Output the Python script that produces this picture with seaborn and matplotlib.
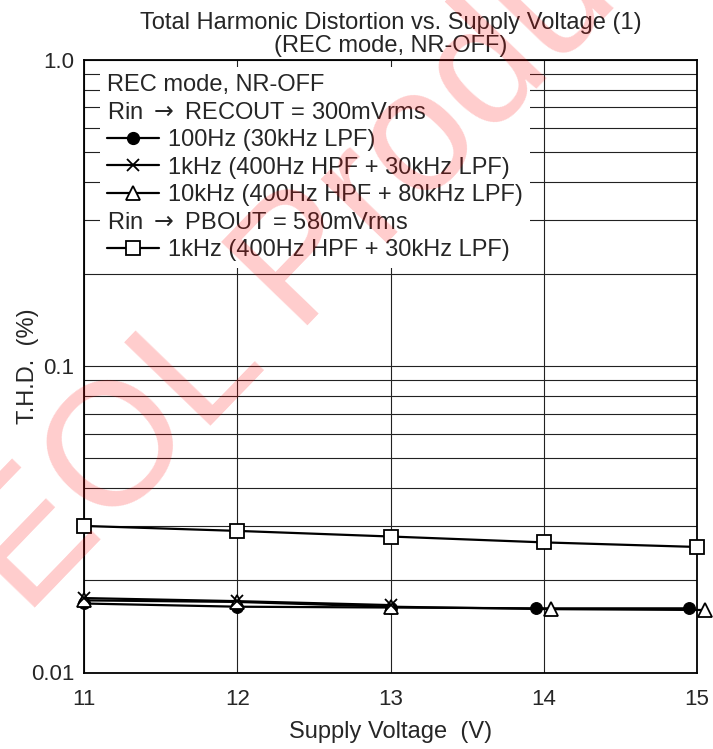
import matplotlib
matplotlib.use('Agg')
import matplotlib.pyplot as plt
import seaborn as sns
from matplotlib.lines import Line2D
from matplotlib.ticker import FixedLocator, FixedFormatter, LogLocator, NullFormatter
from matplotlib.transforms import ScaledTranslation

# data (T.H.D. in %)
volt = [11, 12, 13, 14, 15]
volt_100hz = [11, 12, 13, 13.95, 14.95]   # markers drawn slightly left of 14/15
volt_10khz = [11, 12, 13, 14.05, 15.05]   # markers drawn slightly right of 14/15
volt_1khz = [11, 12, 13]
thd_100hz = [0.0168, 0.0164, 0.0163, 0.0162, 0.0162]
thd_1khz = [0.0175, 0.0171, 0.0166]
thd_10khz = [0.0172, 0.0170, 0.0164, 0.0161, 0.0160]
thd_pbout = [0.0301, 0.0290, 0.0278, 0.0266, 0.0257]

y_ticks = [0.01, 0.1, 1.0]
y_ticklabels = ['0.01', '0.1', '1.0']
x_ticks = [11, 12, 13, 14, 15]

title = 'Total Harmonic Distortion vs. Supply Voltage (1)\n(REC mode, NR-OFF)'
header1 = 'REC mode, NR-OFF'
header2 = r'Rin $\rightarrow$ RECOUT = 300mVrms'
header3 = r'Rin $\rightarrow$ PBOUT = 580mVrms'
lab_100hz = '100Hz (30kHz LPF)'
lab_1khz = '1kHz (400Hz HPF + 30kHz LPF)'
lab_10khz = '10kHz (400Hz HPF + 80kHz LPF)'
lab_pbout = '1kHz (400Hz HPF + 30kHz LPF)'

sns.set_style('white')
plt.rcParams['font.family'] = ['Liberation Sans', 'DejaVu Sans']

fig = plt.figure(figsize=(7.13, 7.49), dpi=100)
ax = fig.add_axes([84/713, 1-672.5/749, 613/713, 612.5/749])

lw = 1.6
sns.lineplot(x=volt, y=thd_pbout, ax=ax, color='black', lw=lw, marker='s', markersize=10,
             markerfacecolor='white', markeredgecolor='black', markeredgewidth=1.3,
             clip_on=False, zorder=4)
sns.lineplot(x=volt_100hz, y=thd_100hz, ax=ax, color='black', lw=lw, marker='o', markersize=8.5,
             markerfacecolor='black', markeredgecolor='black', clip_on=False, zorder=4)
sns.lineplot(x=volt_10khz, y=thd_10khz, ax=ax, color='black', lw=lw, marker='^', markersize=10,
             markerfacecolor='white', markeredgecolor='black', markeredgewidth=1.3,
             clip_on=False, zorder=5)
sns.lineplot(x=volt_1khz, y=thd_1khz, ax=ax, color='black', lw=lw, marker='x', markersize=9,
             markeredgecolor='black', markeredgewidth=1.3, clip_on=False, zorder=6)

ax.set_yscale('log')
ax.set_ylim(0.01, 1.0)
ax.set_xlim(11, 15)
ax.yaxis.set_major_locator(FixedLocator(y_ticks))
ax.yaxis.set_major_formatter(FixedFormatter(y_ticklabels))
ax.yaxis.set_minor_locator(LogLocator(base=10, subs=range(2, 10)))
ax.yaxis.set_minor_formatter(NullFormatter())
ax.set_xticks(x_ticks)

ax.grid(True, which='major', axis='both', color='#222222', lw=0.8)
ax.grid(True, which='minor', axis='y', color='#222222', lw=0.8)
ax.set_axisbelow(True)
for s in ax.spines.values():
    s.set_color('black')
    s.set_linewidth(1.3)

ax.tick_params(axis='y', which='both', direction='in', length=5, width=0.8, color='black',
               labelsize=16, pad=7)
ax.tick_params(axis='x', which='both', direction='in', length=0, labelsize=16, pad=12)

ax.set_xlabel('Supply Voltage  (V)', fontsize=17, labelpad=8)
ax.set_ylabel('T.H.D.  (%)', fontsize=17)
ax.yaxis.set_label_coords(-0.074, 0.5)
ax.set_title(title, fontsize=17, linespacing=1.03, pad=6)

blank = Line2D([], [], color='none')
h_100 = Line2D([], [], color='black', lw=lw, marker='o', ms=8.5, mfc='black', mec='black')
h_1k = Line2D([], [], color='black', lw=lw, marker='x', ms=9, mec='black', mew=1.3)
h_10k = Line2D([], [], color='black', lw=lw, marker='^', ms=10, mfc='white', mec='black', mew=1.3)
h_pb = Line2D([], [], color='black', lw=lw, marker='s', ms=10, mfc='white', mec='black', mew=1.3)
handles = [blank, blank, h_100, h_1k, h_10k, blank, h_pb]
labels = [header1, header2, lab_100hz, lab_1khz, lab_10khz, header3, lab_pbout]
fs = 17
leg = ax.legend(handles, labels, loc='upper left', bbox_to_anchor=(0.026, 0.988), fontsize=fs,
                frameon=True, facecolor='white', edgecolor='none', framealpha=1, fancybox=False,
                borderpad=0.3, borderaxespad=0, labelspacing=0.23, handlelength=2.2,
                handletextpad=0.38)
leg.set_zorder(10)
shift_px = (2.2 + 0.38) * fs * 100 / 72
for t in leg.get_texts():
    if t.get_text() in (header1, header2, header3):
        t.set_transform(t.get_transform() + ScaledTranslation(-shift_px / 100, 0, fig.dpi_scale_trans))

# watermark
fig.text(0.475, 0.695, 'EOL Product', fontsize=126, color='red', alpha=0.2,
         rotation=46, rotation_mode='anchor', ha='center', va='center', zorder=20)

fig.savefig('out.png', dpi=100)
